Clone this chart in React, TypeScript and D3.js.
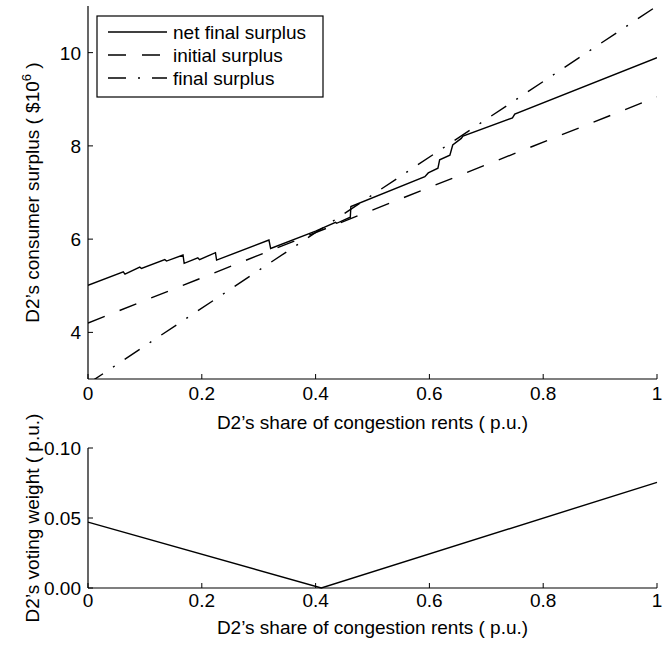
import React from "react";
import * as d3 from "d3";

// ---- data ----
const xTicks = [0, 0.2, 0.4, 0.6, 0.8, 1];
const topYTicks = [4, 6, 8, 10];
const botYTicks = [0, 0.05, 0.1];

const netX = [0, 0.062, 0.065, 0.091, 0.094, 0.135, 0.138, 0.167, 0.169, 0.193, 0.196, 0.224, 0.226, 0.318, 0.321, 0.4, 0.435, 0.437, 0.461, 0.462, 0.592, 0.598, 0.615, 0.618, 0.636, 0.641, 0.656, 0.659, 0.746, 0.75, 1.0];
const netY = [5.01, 5.3, 5.25, 5.4, 5.37, 5.56, 5.53, 5.66, 5.48, 5.6, 5.56, 5.71, 5.55, 5.98, 5.8, 6.17, 6.36, 6.34, 6.47, 6.7, 7.34, 7.42, 7.52, 7.7, 7.8, 8.02, 8.16, 8.21, 8.6, 8.68, 9.89];

const initX = [0, 1];
const initY = [4.2, 9.05];

const finalX = [0, 1];
const finalY = [2.9, 11.0];

const voteX = [0, 0.41, 1];
const voteY = [0.047, 0, 0.0755];

const legendLabels = ["net final surplus", "initial surplus", "final surplus"];

const FONT = "'Liberation Sans', Arial, sans-serif";
const FS = 19;

export default function App() {
  const left = 88, right = 657;
  const x = d3.scaleLinear().domain([0, 1]).range([left, right]);
  const yTop = d3.scaleLinear().domain([3, 11]).range([379, 6]);
  const yBot = d3.scaleLinear().domain([0, 0.1]).range([588, 448]);

  const lineTop = d3.line<[number, number]>().x(d => x(d[0])).y(d => yTop(d[1]));
  const lineBot = d3.line<[number, number]>().x(d => x(d[0])).y(d => yBot(d[1]));

  const zip = (a: number[], b: number[]) => a.map((v, i) => [v, b[i]] as [number, number]);

  const styles = [
    { dash: "none" },
    { dash: "18 16" },
    { dash: "18 12 2 12" },
  ];

  const fmtX = (v: number) => (v === 0 ? "0" : v === 1 ? "1" : d3.format(".1f")(v));

  const xAxis = (y0: number, labelY: number, titleY: number) => (
    <g>
      <line x1={left} x2={right} y1={y0} y2={y0} stroke="#000" strokeWidth={1.2} />
      {xTicks.map(t => (
        <g key={t}>
          <line x1={x(t)} x2={x(t)} y1={y0} y2={y0 - 5} stroke="#000" strokeWidth={1} />
          <text x={x(t)} y={labelY} textAnchor="middle" fontSize={FS} fontFamily={FONT}>{fmtX(t)}</text>
        </g>
      ))}
      <text x={(left + right) / 2} y={titleY} textAnchor="middle" fontSize={FS} fontFamily={FONT}>
        D2’s share of congestion rents ( p.u.)
      </text>
    </g>
  );

  return (
    <svg width={663} height={647} style={{ position: "absolute", left: 0, top: 0, background: "#fff" }}>
      <defs>
        <clipPath id="clipTop">
          <rect x={left} y={yTop(11)} width={right - left} height={yTop(3) - yTop(11)} />
        </clipPath>
      </defs>
      <rect x={0} y={0} width={663} height={647} fill="#fff" />

      {/* top chart */}
      <g clipPath="url(#clipTop)" fill="none" stroke="#000" strokeWidth={1.4}>
        <path d={lineTop(zip(netX, netY)) || ""} />
        <path d={lineTop(zip(initX, initY)) || ""} strokeDasharray={styles[1].dash} />
        <path d={lineTop(zip(finalX, finalY)) || ""} strokeDasharray={styles[2].dash} />
      </g>
      <line x1={left} x2={left} y1={yTop(11)} y2={yTop(3)} stroke="#000" strokeWidth={1.2} />
      {topYTicks.map(t => (
        <g key={t}>
          <line x1={left} x2={left + 5} y1={yTop(t)} y2={yTop(t)} stroke="#000" strokeWidth={1} />
          <text x={left - 7} y={yTop(t) + 7} textAnchor="end" fontSize={FS} fontFamily={FONT}>{t}</text>
        </g>
      ))}
      {xAxis(yTop(3), yTop(3) + 21, yTop(3) + 50)}
      <text transform={`translate(39,${(yTop(3) + yTop(11)) / 2}) rotate(-90)`} textAnchor="middle" fontSize={FS} fontFamily={FONT}>
        D2’s consumer surplus ( $10<tspan fontSize={13} dy={-8}>6</tspan><tspan dy={8}> )</tspan>
      </text>

      {/* legend */}
      <g>
        <rect x={97} y={16} width={226} height={81} fill="#fff" stroke="#000" strokeWidth={1.2} />
        {legendLabels.map((lab, i) => (
          <g key={lab}>
            <line x1={108} x2={167} y1={32 + i * 23} y2={32 + i * 23} stroke="#000" strokeWidth={1.4}
              strokeDasharray={styles[i].dash} />
            <text x={173} y={32 + i * 23 + 7} fontSize={FS} fontFamily={FONT}>{lab}</text>
          </g>
        ))}
      </g>

      {/* bottom chart */}
      <path d={lineBot(zip(voteX, voteY)) || ""} fill="none" stroke="#000" strokeWidth={1.4} />
      <line x1={left} x2={left} y1={yBot(0.1)} y2={yBot(0)} stroke="#000" strokeWidth={1.2} />
      {botYTicks.map(t => (
        <g key={t}>
          <line x1={left} x2={left + 5} y1={yBot(t)} y2={yBot(t)} stroke="#000" strokeWidth={1} />
          <text x={left - 7} y={yBot(t) + 7} textAnchor="end" fontSize={FS} fontFamily={FONT}>{d3.format(".2f")(t)}</text>
        </g>
      ))}
      {xAxis(yBot(0), yBot(0) + 19, yBot(0) + 46)}
      <text transform={`translate(39,${(yBot(0) + yBot(0.1)) / 2}) rotate(-90)`} textAnchor="middle" fontSize={FS} fontFamily={FONT}>
        D2’s voting weight ( p.u.)
      </text>
    </svg>
  );
}
